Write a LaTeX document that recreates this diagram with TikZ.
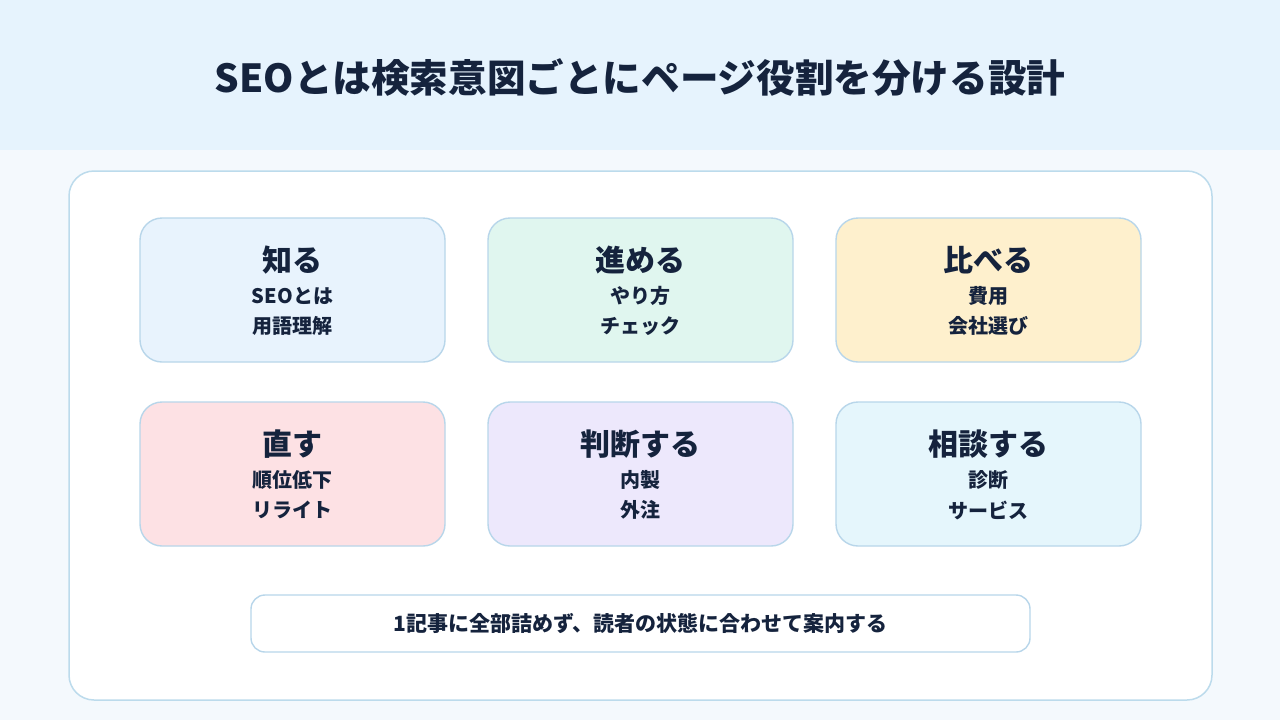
\documentclass[tikz,border=0pt]{standalone}
\usepackage{fontspec}
\setmainfont{Noto Sans CJK JP}
\usetikzlibrary{positioning}

\definecolor{ink}{HTML}{15233D}
\definecolor{headbg}{HTML}{E6F3FD}
\definecolor{pagebg}{HTML}{F4F9FD}
\definecolor{panelline}{HTML}{BCDBEC}
\definecolor{cardline}{HTML}{B8D6EA}
\definecolor{knowfill}{HTML}{E8F3FD}
\definecolor{gofill}{HTML}{E0F6EF}
\definecolor{cmpfill}{HTML}{FEF0CD}
\definecolor{fixfill}{HTML}{FDE1E4}
\definecolor{judgefill}{HTML}{EDE8FC}
\definecolor{askfill}{HTML}{E5F6FC}

\begin{document}
\begin{tikzpicture}[x=0.5pt,y=-0.5pt,
  card/.style={draw=cardline, line width=0.7pt, rounded corners=11pt,
    minimum width=152.5pt, minimum height=72pt, inner sep=0pt},
  headtxt/.style={font=\bfseries\fontsize{15}{18}\selectfont, text=ink},
  subtxt/.style={font=\bfseries\fontsize{10}{12}\selectfont, text=ink}]

% ------------------------------------------------------------------
% One card per search intent:
% \intent{name}{x}{y}{fill}{title}{first line}{second line}
% x and y are the card centre, in pixels of the 1280-by-720 canvas.
% ------------------------------------------------------------------
\newcommand{\intent}[7]{%
  \node[card, fill=#4] (#1) at (#2,#3) {};
  \node[headtxt] (#1-head) at (#2,#3-30) {#5};
  \node[subtxt] (#1-one) at (#2,#3+6) {#6};
  \node[subtxt] (#1-two) at (#2,#3+36) {#7};
}

\useasboundingbox (0,0) rectangle (1280,720);

% Page background and header band.
\fill[pagebg] (0,0) rectangle (1280,720);
\fill[headbg] (0,0) rectangle (1280,150);
\node[font=\bfseries\fontsize{19.3}{23}\selectfont, text=ink] (title) at (640,78)
  {SEOとは検索意図ごとにページ役割を分ける設計};

% White panel holding the cards.
\filldraw[fill=white, draw=panelline, line width=0.75pt, rounded corners=12.5pt]
  (69,171) rectangle (1212,700);

% Top row.
\intent{know}{292.5}{290}{knowfill}{知る}{SEOとは}{用語理解}
\intent{go}{640.5}{290}{gofill}{進める}{やり方}{チェック}
\intent{cmp}{988.5}{290}{cmpfill}{比べる}{費用}{会社選び}
% Bottom row.
\intent{fix}{292.5}{474}{fixfill}{直す}{順位低下}{リライト}
\intent{judge}{640.5}{474}{judgefill}{判断する}{内製}{外注}
\intent{ask}{988.5}{474}{askfill}{相談する}{診断}{サービス}

% Closing note.
\node[draw=cardline, fill=white, line width=0.7pt, rounded corners=7pt,
  minimum width=389.5pt, minimum height=28.5pt, inner sep=0pt,
  font=\bfseries\fontsize{10.5}{13}\selectfont, text=ink] (note) at (640.5,623.5)
  {1記事に全部詰めず、読者の状態に合わせて案内する};

\end{tikzpicture}
\end{document}
